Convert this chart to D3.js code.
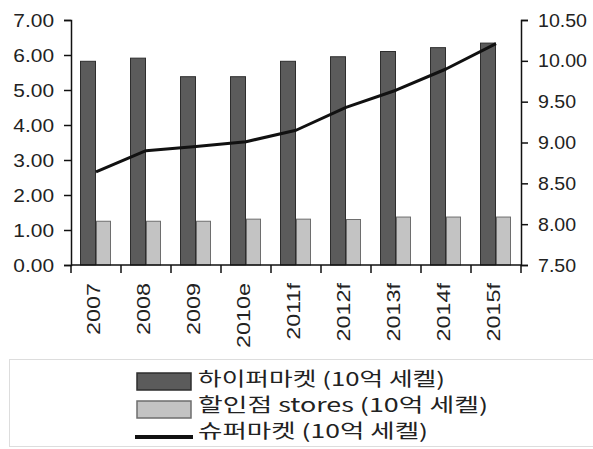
<!DOCTYPE html>
<html>
<head>
<meta charset="utf-8">
<script src="https://cdn.jsdelivr.net/npm/d3@7"></script>
<style>
  html, body { margin: 0; padding: 0; background: #fff; }
  svg { display: block; }
  text { font-family: "Liberation Sans", Arial, sans-serif; fill: #222; }
  .kr { font-family: "Noto Sans CJK KR", "Liberation Sans", sans-serif; }
</style>
</head>
<body>
<svg id="chart" width="593" height="449"></svg>
<script>
// Years (e = estimate, f = forecast)
const categories = ["2007", "2008", "2009", "2010e", "2011f", "2012f", "2013f", "2014f", "2015f"];
// Hypermarkets, left axis (NIS bn)
const hypermarkets = [5.82, 5.91, 5.38, 5.38, 5.82, 5.95, 6.10, 6.21, 6.34];
// Discount stores, left axis (NIS bn)
const discountStores = [1.25, 1.25, 1.25, 1.31, 1.31, 1.30, 1.37, 1.37, 1.37];
// Supermarkets, right axis (NIS bn)
const supermarkets = [8.64, 8.90, 8.95, 9.01, 9.15, 9.43, 9.64, 9.90, 10.21];
const leftTicks = [0, 1, 2, 3, 4, 5, 6, 7];
const rightTicks = [7.5, 8.0, 8.5, 9.0, 9.5, 10.0, 10.5];
const legendLabels = ["하이퍼마켓 (10억 세켈)", "할인점 stores (10억 세켈)", "슈퍼마켓 (10억 세켈)"];

const svg = d3.select("#chart");
const plot = { left: 71, right: 521, top: 20, bottom: 265 };

// Widen a text's glyphs along its baseline by factor k
function stretch(sel, k) {
  sel.each(function () {
    const len = this.getComputedTextLength();
    d3.select(this).attr("textLength", len * k).attr("lengthAdjust", "spacingAndGlyphs");
  });
}

const x = d3.scaleBand().domain(categories)
  .range([plot.left, plot.right]).paddingInner(0.36).paddingOuter(0.18);
const xSeries = d3.scaleBand().domain(["hyper", "discount"]).range([0, x.bandwidth()]);
const yLeft = d3.scaleLinear().domain([0, 7]).range([plot.bottom, plot.top]);
const yRight = d3.scaleLinear().domain([7.5, 10.5]).range([plot.bottom, plot.top]);

// Bars
const groups = svg.append("g").selectAll("g").data(categories).join("g")
  .attr("transform", d => `translate(${x(d)},0)`);
groups.append("rect")
  .attr("x", xSeries("hyper") + 0.5)
  .attr("y", (d, i) => yLeft(hypermarkets[i]))
  .attr("width", xSeries.bandwidth() - 1)
  .attr("height", (d, i) => yLeft(0) - yLeft(hypermarkets[i]))
  .attr("fill", "#5b5b5b").attr("stroke", "#2e2e2e").attr("stroke-width", 1);
groups.append("rect")
  .attr("x", xSeries("discount") + 0.5)
  .attr("y", (d, i) => yLeft(discountStores[i]))
  .attr("width", xSeries.bandwidth() - 2)
  .attr("height", (d, i) => yLeft(0) - yLeft(discountStores[i]))
  .attr("fill", "#c3c3c3").attr("stroke", "#6e6e6e").attr("stroke-width", 1);

// Supermarket line on the right axis
const line = d3.line()
  .x((d, i) => x(categories[i]) + x.bandwidth() / 2)
  .y(d => yRight(d));
svg.append("path").datum(supermarkets)
  .attr("d", line).attr("fill", "none")
  .attr("stroke", "#111").attr("stroke-width", 3).attr("stroke-linejoin", "round");

// Axes
const fmt = d3.format(".2f");
const leftAxis = svg.append("g").attr("transform", `translate(${plot.left},0)`)
  .call(d3.axisLeft(yLeft).tickValues(leftTicks).tickFormat(fmt).tickSize(7).tickPadding(10));
const rightAxis = svg.append("g").attr("transform", `translate(${plot.right},0)`)
  .call(d3.axisRight(yRight).tickValues(rightTicks).tickFormat(fmt).tickSize(7).tickPadding(10));
[leftAxis, rightAxis].forEach(a => {
  a.select(".domain").attr("stroke", "#111").attr("stroke-width", 1.5);
  a.selectAll(".tick line").attr("stroke", "#111").attr("stroke-width", 1.5);
  a.selectAll("text").attr("font-size", 19).attr("fill", "#222")
    .attr("font-family", "'Liberation Sans', Arial, sans-serif");
});
stretch(leftAxis.selectAll("text"), 1.1);
stretch(rightAxis.selectAll("text"), 1.03);

// Category axis: boundary ticks plus rotated labels
const bottom = svg.append("g");
bottom.append("line")
  .attr("x1", plot.left).attr("x2", plot.right)
  .attr("y1", plot.bottom).attr("y2", plot.bottom)
  .attr("stroke", "#111").attr("stroke-width", 1.5);
const step = x.step();
bottom.selectAll(".bt").data(d3.range(categories.length + 1)).join("line")
  .attr("x1", i => plot.left + i * step).attr("x2", i => plot.left + i * step)
  .attr("y1", plot.bottom).attr("y2", plot.bottom + 8)
  .attr("stroke", "#111").attr("stroke-width", 1.5);
const catLabels = bottom.selectAll(".cl").data(categories).join("text")
  .attr("transform", d => `translate(${x(d) + x.bandwidth() / 2 + 4},${plot.bottom + 18}) rotate(-90)`)
  .attr("text-anchor", "end")
  .attr("font-size", 18)
  .text(d => d);
stretch(catLabels, 1.3);

// Legend
const legend = svg.append("g");
legend.append("rect")
  .attr("x", 9.5).attr("y", 359.5).attr("width", 590).attr("height", 87)
  .attr("fill", "none").attr("stroke", "#ddd");
const swatchX = 137, swatchW = 54;
legend.append("rect").attr("x", swatchX).attr("y", 373).attr("width", swatchW).attr("height", 17)
  .attr("fill", "#5b5b5b").attr("stroke", "#2e2e2e").attr("stroke-width", 1.5);
legend.append("rect").attr("x", swatchX).attr("y", 401).attr("width", swatchW).attr("height", 17)
  .attr("fill", "#c3c3c3").attr("stroke", "#6e6e6e").attr("stroke-width", 1.5);
legend.append("line").attr("x1", 135).attr("x2", 193).attr("y1", 437).attr("y2", 437)
  .attr("stroke", "#111").attr("stroke-width", 4);
const legendWidths = [247, 290, 230];
legend.selectAll(".lt").data(legendLabels).join("text")
  .attr("class", "kr")
  .attr("x", 198).attr("y", (d, i) => 386 + i * 26)
  .attr("font-size", 19)
  .attr("fill", "#111")
  .attr("textLength", (d, i) => legendWidths[i])
  .attr("lengthAdjust", "spacingAndGlyphs")
  .text(d => d);
</script>
</body>
</html>
